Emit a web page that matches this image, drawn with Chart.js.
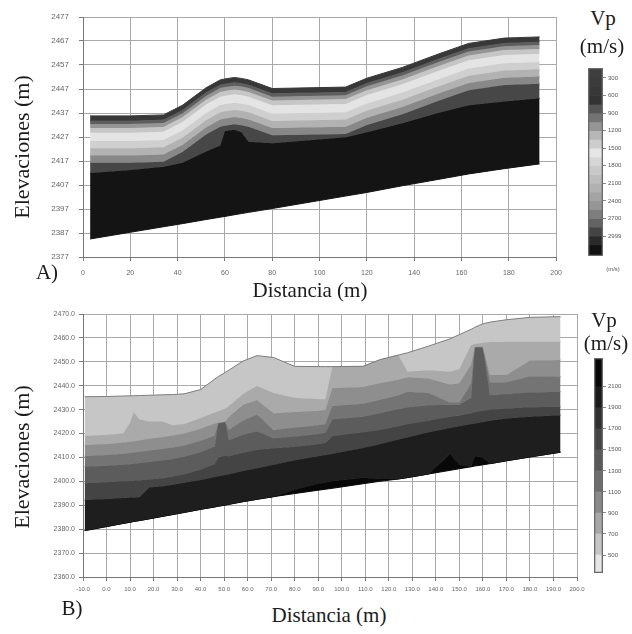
<!DOCTYPE html>
<html>
<head>
<meta charset="utf-8">
<script src="https://cdn.jsdelivr.net/npm/chart.js@4.4.1/dist/chart.umd.min.js"></script>
<style>
  body { margin: 0; background: #fff; width: 632px; height: 634px; position: relative; overflow: hidden; }
  canvas { position: absolute; }
  .t { position: absolute; color: #1c1c1c; font-family: "Liberation Serif", serif; white-space: nowrap; line-height: 1; transform: translate(-50%, -50%); }
  .rot { transform: translate(-50%, -50%) rotate(-90deg); }
  .small { font-family: "Liberation Sans", sans-serif; font-size: 6px; color: #555; }
</style>
</head>
<body>
<canvas id="chartA" width="570" height="290" style="left:0;top:0"></canvas>
<canvas id="barA" width="57" height="215" style="left:575px;top:55px"></canvas>
<canvas id="chartB" width="590" height="300" style="left:0;top:300px"></canvas>
<canvas id="barB" width="57" height="250" style="left:575px;top:340px"></canvas>

<div class="t rot" style="left:22px;top:147px;font-size:22px">Elevaciones (m)</div>
<div class="t" style="left:310px;top:290px;font-size:21px">Distancia (m)</div>
<div class="t" style="left:47px;top:272px;font-size:21px">A)</div>
<div class="t" style="left:603px;top:18px;font-size:21px">Vp</div>
<div class="t" style="left:602px;top:46px;font-size:21px">(m/s)</div>
<div class="t small" style="left:613px;top:269px">(m/s)</div>

<div class="t rot" style="left:22px;top:457px;font-size:22px">Elevaciones (m)</div>
<div class="t" style="left:329px;top:615px;font-size:21px">Distancia (m)</div>
<div class="t" style="left:72px;top:608px;font-size:21px">B)</div>
<div class="t" style="left:604px;top:320px;font-size:21px">Vp</div>
<div class="t" style="left:606px;top:343px;font-size:21px">(m/s)</div>

<script>
// ---- panel A: distance (m) and elevations (m) of each velocity contour ----
const xsA = [3, 20, 34, 42, 52, 58, 60, 64, 67, 70, 80, 111, 120, 135, 150, 163, 178, 193];
const surfaceA = [2435.8, 2435.8, 2436.2, 2440.2, 2447.5, 2450.8, 2451.2, 2451.8, 2451.4, 2450.8, 2447.2, 2447.8, 2451.5, 2456.0, 2461.5, 2466.0, 2468.2, 2468.7];
const iso600A  = [2433.8, 2433.8, 2434.2, 2438.2, 2445.5, 2448.8, 2449.2, 2449.8, 2449.4, 2448.8, 2445.2, 2445.8, 2449.5, 2454.0, 2459.5, 2464.0, 2466.2, 2466.7];
const iso900A  = [2432.4, 2432.4, 2432.8, 2436.8, 2444.1, 2447.4, 2447.8, 2448.4, 2448.0, 2447.4, 2443.8, 2444.4, 2448.1, 2452.6, 2458.1, 2462.6, 2464.8, 2465.3];
const iso1200A = [2430.8, 2430.8, 2431.2, 2435.2, 2442.5, 2445.8, 2446.2, 2446.8, 2446.4, 2445.8, 2442.2, 2442.8, 2446.5, 2451.0, 2456.5, 2461.0, 2463.2, 2463.7];
const iso1500A = [2428.8, 2428.8, 2429.2, 2433.2, 2440.5, 2443.8, 2444.2, 2444.8, 2444.4, 2443.8, 2440.2, 2440.8, 2444.5, 2449.0, 2454.5, 2459.0, 2461.2, 2461.7];
const iso1800A = [2425.3, 2425.3, 2425.7, 2429.7, 2437.0, 2440.3, 2440.7, 2441.3, 2440.9, 2440.3, 2436.7, 2437.3, 2441.0, 2445.5, 2451.0, 2455.5, 2457.7, 2458.2];
const iso2100A = [2422.3, 2422.3, 2422.7, 2426.7, 2434.0, 2437.3, 2437.7, 2438.3, 2437.9, 2437.3, 2433.7, 2434.3, 2438.0, 2442.5, 2448.0, 2452.5, 2454.7, 2455.2];
const iso2400A = [2419.3, 2419.3, 2419.7, 2423.7, 2431.0, 2434.3, 2434.7, 2435.3, 2434.9, 2434.3, 2430.7, 2431.3, 2435.0, 2439.5, 2445.0, 2449.5, 2451.7, 2452.2];
const iso2700A = [2416.3, 2416.3, 2416.7, 2420.7, 2428.0, 2431.3, 2431.7, 2432.3, 2431.9, 2431.3, 2427.7, 2428.3, 2432.0, 2436.5, 2442.0, 2446.5, 2448.7, 2449.2];
const iso2999A = [2412.0, 2413.3, 2414.6, 2416.3, 2421.0, 2423.5, 2429.5, 2430.0, 2429.0, 2425.0, 2424.4, 2426.9, 2429.0, 2432.7, 2437.0, 2440.2, 2441.8, 2443.1];
const baseA    = [2384.5, 2387.3, 2389.6, 2390.9, 2392.6, 2393.6, 2393.9, 2394.6, 2395.1, 2395.6, 2397.2, 2402.4, 2403.9, 2406.7, 2409.3, 2411.6, 2413.8, 2415.8];
const bandColorsA = ['#383838', '#5e5e5e', '#959595', '#c6c6c6', '#e4e4e4', '#cfcfcf', '#b2b2b2', '#888888', '#474747', '#141414'];
const xTicksA = [0, 20, 40, 60, 80, 100, 120, 140, 160, 180, 200];
const yTicksA = [2377, 2387, 2397, 2407, 2417, 2427, 2437, 2447, 2457, 2467, 2477];

// colour scale A (m/s)
const cbEdgesA = [130, 300, 450, 600, 750, 900, 1050, 1200, 1350, 1500, 1650, 1800, 1950, 2100, 2250, 2400, 2550, 2700, 2850, 3000, 3150, 3340];
const cbColorsA = ['#3e3e3e', '#3c3c3c', '#383838', '#333333', '#555555', '#737373', '#959595', '#b6b6b6', '#cdcdcd', '#e6e6e6',
                   '#d6d6d6', '#c9c9c9', '#bdbdbd', '#b1b1b1', '#a4a4a4', '#959595', '#7e7e7e', '#636363', '#444444', '#2a2a2a', '#111111'];
const cbTicksA = [300, 600, 900, 1200, 1500, 1800, 2100, 2400, 2700, 2999];

// ---- panel B ----
const xsB = [-9.3, 0, 7, 10, 11.5, 14, 18, 24, 28, 33, 40, 46, 47.5, 50.5, 52, 58, 64, 71, 80, 90, 93, 96, 109, 116, 124, 128, 137, 146, 150, 155, 156.5, 160, 163, 170, 180, 193];
const surfaceB = [2435.4, 2435.5, 2435.7, 2435.8, 2435.8, 2435.9, 2436.0, 2436.2, 2436.3, 2436.6, 2438.4, 2442.8, 2443.8, 2445.6, 2446.5, 2450.3, 2452.6, 2451.8, 2448.1, 2448.0, 2448.0, 2448.0, 2448.1, 2450.8, 2452.8, 2453.8, 2456.6, 2459.6, 2461.4, 2463.6, 2464.4, 2465.9, 2466.6, 2467.6, 2468.6, 2468.9];
const iso700B  = [2419.0, 2419.5, 2420.0, 2424.5, 2429.0, 2426.0, 2425.0, 2425.0, 2423.5, 2424.0, 2426.5, 2428.8, 2429.3, 2430.5, 2431.5, 2436.5, 2440.0, 2437.0, 2435.0, 2434.5, 2434.3, 2448.0, 2448.1, 2450.8, 2452.8, 2446.0, 2446.5, 2446.0, 2447.0, 2457.0, 2457.5, 2458.0, 2458.3, 2458.4, 2458.4, 2458.4];
const iso900B  = [2415.2, 2415.6, 2416.3, 2416.6, 2416.8, 2417.2, 2417.8, 2418.6, 2419.2, 2420.0, 2422.0, 2424.2, 2424.5, 2425.0, 2427.0, 2432.0, 2434.0, 2428.5, 2429.0, 2429.5, 2429.8, 2439.0, 2439.5, 2441.0, 2442.5, 2443.5, 2443.0, 2440.5, 2441.0, 2449.0, 2456.3, 2456.3, 2444.5, 2444.5, 2450.5, 2450.8];
const iso1100B = [2410.6, 2411.0, 2411.6, 2411.9, 2412.1, 2412.4, 2412.9, 2413.6, 2414.2, 2415.0, 2417.0, 2419.2, 2424.5, 2425.0, 2421.5, 2425.5, 2428.0, 2421.5, 2422.5, 2423.5, 2424.0, 2431.5, 2432.5, 2434.0, 2436.0, 2437.5, 2437.0, 2433.0, 2433.0, 2441.0, 2456.3, 2456.3, 2441.5, 2441.5, 2444.0, 2443.8];
const iso1300B = [2406.1, 2406.5, 2407.0, 2407.2, 2407.4, 2407.7, 2408.1, 2408.8, 2409.4, 2410.3, 2412.3, 2414.6, 2424.5, 2425.0, 2417.2, 2419.5, 2421.0, 2418.0, 2418.8, 2419.8, 2420.2, 2426.0, 2427.0, 2428.5, 2430.2, 2431.0, 2431.8, 2432.0, 2432.0, 2435.0, 2456.3, 2456.3, 2436.0, 2436.5, 2437.2, 2437.5];
const iso1500B = [2399.2, 2399.6, 2400.0, 2400.2, 2400.3, 2400.5, 2400.8, 2401.3, 2402.0, 2403.0, 2405.0, 2407.3, 2410.0, 2410.8, 2410.5, 2412.0, 2413.2, 2413.8, 2414.5, 2415.5, 2416.0, 2419.0, 2420.5, 2421.5, 2423.0, 2424.0, 2425.5, 2427.0, 2427.5, 2428.5, 2429.0, 2429.5, 2430.0, 2430.5, 2431.0, 2431.2];
const iso1900B = [2392.2, 2392.6, 2393.0, 2393.2, 2393.3, 2393.5, 2397.4, 2398.0, 2398.6, 2399.4, 2400.6, 2401.8, 2402.1, 2402.7, 2403.0, 2404.3, 2405.5, 2407.0, 2408.8, 2410.5, 2411.0, 2411.6, 2414.0, 2415.5, 2417.5, 2418.5, 2420.5, 2422.3, 2423.0, 2424.0, 2424.2, 2424.8, 2425.3, 2426.3, 2427.0, 2427.7];
const iso2100B = [2379.4, 2381.1, 2382.4, 2382.9, 2383.2, 2383.6, 2384.3, 2385.4, 2386.1, 2387.0, 2388.3, 2389.3, 2389.6, 2390.1, 2390.4, 2391.5, 2392.5, 2393.6, 2396.5, 2399.0, 2399.5, 2400.0, 2401.5, 2401.0, 2401.0, 2401.6, 2403.1, 2411.5, 2407.0, 2406.1, 2410.5, 2410.0, 2407.4, 2408.6, 2410.2, 2412.2];
const baseB    = [2379.4, 2381.1, 2382.4, 2382.9, 2383.2, 2383.6, 2384.3, 2385.4, 2386.1, 2387.0, 2388.3, 2389.3, 2389.6, 2390.1, 2390.4, 2391.5, 2392.5, 2393.6, 2394.9, 2396.3, 2396.7, 2397.1, 2399.0, 2400.0, 2401.0, 2401.6, 2403.1, 2404.6, 2405.3, 2406.1, 2406.4, 2406.9, 2407.4, 2408.6, 2410.2, 2412.2];
const bandColorsB = ['#c6c6c6', '#aaaaaa', '#8e8e8e', '#747474', '#5c5c5c', '#444444', '#1e1e1e', '#080808'];
const xTicksB = [-10, 0, 10, 20, 30, 40, 50, 60, 70, 80, 90, 100, 110, 120, 130, 140, 150, 160, 170, 180, 190, 200];
const yTicksB = [2360, 2370, 2380, 2390, 2400, 2410, 2420, 2430, 2440, 2450, 2460, 2470];

// colour scale B (m/s)
const cbEdgesB = [329, 500, 700, 900, 1100, 1300, 1500, 1700, 1900, 2100, 2373];
const cbColorsB = ['#e6e6e6', '#c6c6c6', '#a8a8a8', '#8a8a8a', '#6e6e6e', '#585858', '#444444', '#303030', '#1a1a1a', '#080808'];
const cbTicksB = [500, 700, 900, 1100, 1300, 1500, 1700, 1900, 2100];

Chart.defaults.font.family = 'Liberation Sans';

function fixedTicks(values) {
  return (scale) => { scale.ticks = values.map(v => ({ value: v })); };
}

// each contour line is filled down to the next one
function bandDatasets(xs, lines, colors, topEdge) {
  const last = lines.length - 1;
  return lines.map((ys, i) => {
    const c = colors[Math.min(i, colors.length - 1)];
    return {
      data: xs.map((x, j) => ({ x: x, y: ys[j] })),
      fill: i < last ? '+1' : false,
      backgroundColor: c,
      borderColor: (i === 0 && topEdge) ? topEdge : c,
      borderWidth: 1,
      pointRadius: 0,
      tension: 0
    };
  });
}

function section(id, xs, lines, colors, topEdge, ax) {
  new Chart(document.getElementById(id), {
    type: 'line',
    data: { datasets: bandDatasets(xs, lines, colors, topEdge) },
    options: {
      responsive: false,
      animation: false,
      events: [],
      layout: { padding: ax.padding },
      plugins: { legend: { display: false }, tooltip: { enabled: false } },
      scales: {
        x: {
          type: 'linear', min: ax.xMin, max: ax.xMax,
          afterBuildTicks: fixedTicks(ax.xTicks),
          afterFit: (s) => { s.height = ax.xHeight; },
          grid: { color: '#a9a9a9', tickLength: 4, tickColor: '#7a7a7a' },
          border: { color: '#777' },
          ticks: { font: { size: ax.xFont }, color: '#666', padding: ax.xPad, maxRotation: 0, autoSkip: false, callback: ax.fmt }
        },
        y: {
          min: ax.yMin, max: ax.yMax,
          afterBuildTicks: fixedTicks(ax.yTicks),
          afterFit: (s) => { s.width = 83; },
          grid: { color: '#a9a9a9', tickLength: 4, tickColor: '#7a7a7a' },
          border: { color: '#777' },
          ticks: { font: { size: ax.yFont }, color: '#666', padding: ax.yPad, autoSkip: false, callback: ax.fmt }
        }
      }
    }
  });
}

function colorbar(id, edges, colors, ticks, reverse, padding) {
  const opts = { grouped: false, barPercentage: 1, categoryPercentage: 1 };
  const sets = [Object.assign({ data: [[edges[0], edges[edges.length - 1]]], backgroundColor: 'rgba(0,0,0,0)',
                                borderColor: '#6a6a6a', borderWidth: 1, borderSkipped: false }, opts)];
  colors.forEach((c, i) => sets.push(Object.assign({ data: [[edges[i], edges[i + 1]]], backgroundColor: c, borderWidth: 0 }, opts)));
  new Chart(document.getElementById(id), {
    type: 'bar',
    data: { labels: [''], datasets: sets },
    options: {
      responsive: false,
      animation: false,
      events: [],
      layout: { padding: padding },
      plugins: { legend: { display: false }, tooltip: { enabled: false } },
      scales: {
        x: { display: false },
        y: {
          position: 'right', reverse: reverse,
          min: edges[0], max: edges[edges.length - 1],
          afterBuildTicks: fixedTicks(ticks),
          afterFit: (s) => { s.width = 29; },
          grid: { drawOnChartArea: false, tickLength: 3, tickColor: '#888' },
          border: { display: false },
          ticks: { font: { size: 6 }, color: '#555', padding: 2, callback: (v) => String(v) }
        }
      }
    }
  });
}

section('chartA', xsA,
  [surfaceA, iso600A, iso900A, iso1200A, iso1500A, iso1800A, iso2100A, iso2400A, iso2700A, iso2999A, baseA],
  bandColorsA, null,
  { padding: { left: 0, right: 12, top: 17, bottom: 0 }, xMin: 0, xMax: 200, yMin: 2377, yMax: 2477,
    xTicks: xTicksA, yTicks: yTicksA, xHeight: 33, xFont: 7, yFont: 8, xPad: 8, yPad: 10, fmt: (v) => String(v) });

section('chartB', xsB,
  [surfaceB, iso700B, iso900B, iso1100B, iso1300B, iso1500B, iso1900B, iso2100B, baseB],
  bandColorsB, '#7d7d7d',
  { padding: { left: 0, right: 13, top: 14, bottom: 0 }, xMin: -10, xMax: 200, yMin: 2360, yMax: 2470,
    xTicks: xTicksB, yTicks: yTicksB, xHeight: 23, xFont: 6, yFont: 7, xPad: 5, yPad: 4, fmt: (v) => Number(v).toFixed(1) });

colorbar('barA', cbEdgesA, cbColorsA, cbTicksA, true, { left: 13, right: 0, top: 13, bottom: 14 });
colorbar('barB', cbEdgesB, cbColorsB, cbTicksB, false, { left: 19, right: 0, top: 18, bottom: 17 });
</script>
</body>
</html>
